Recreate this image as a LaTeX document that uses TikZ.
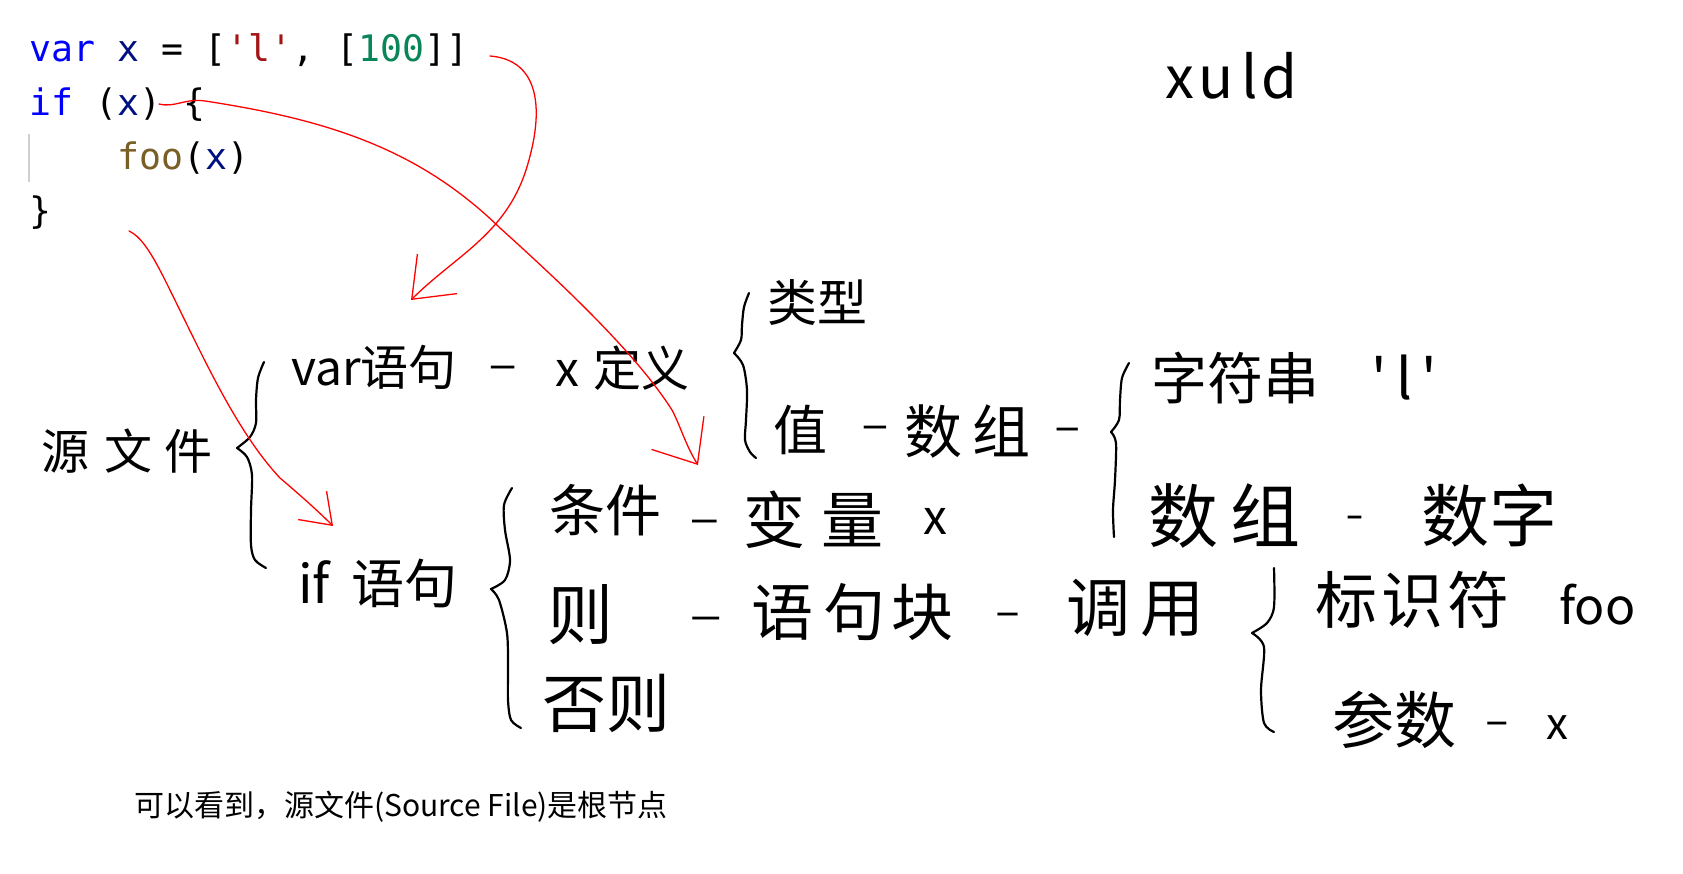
\documentclass[tikz,border=0pt]{standalone}
\usepackage{fontspec}
\usepackage{graphicx}
\setmonofont{DejaVu Sans Mono}
\newfontfamily\cjk{Noto Sans CJK SC}
\newfontfamily\dashfont{DejaVu Sans}
\usetikzlibrary{arrows.meta}

\definecolor{kwblue}{HTML}{0000FF}
\definecolor{varnavy}{HTML}{001080}
\definecolor{strred}{HTML}{A31515}
\definecolor{numgreen}{HTML}{098658}
\definecolor{fnbrown}{HTML}{795E26}
\definecolor{guidegray}{HTML}{D0D0D0}

\newcommand{\handdash}[1]{\scalebox{#1}[1]{–}}

\tikzset{
  hand/.style={font=\cjk\fontsize{#1}{#1}\selectfont, inner sep=0pt, anchor=west},
  hand/.default=50,
  dashmark/.style={font=\dashfont\fontsize{40}{40}\selectfont, inner sep=0pt, anchor=base west},
  code/.style={font=\ttfamily\fontsize{36.5}{44}\selectfont, inner sep=0pt, anchor=base west},
  pen/.style={line width=2.2pt, line cap=round, line join=round},
  redline/.style={red, line width=1.3pt, line cap=round, line join=round},
}

\begin{document}
\begin{tikzpicture}[x=1pt, y=-1pt]

  \fill[white] (0,0) rectangle (1683,874);

  %% ════ 代码区 ════
  \draw[guidegray, line width=1.5pt] (29,134) -- (29,182);
  \node[code] (line1) at (29,62) {\color{kwblue}var \color{varnavy}x \color{black}= [\color{strred}'l'\color{black}, [\color{numgreen}100\color{black}]]};
  \node[code] (line2) at (29,116) {\color{kwblue}if \color{black}(\color{varnavy}x\color{black}) \{};
  \node[code] (line3) at (117,170) {\color{fnbrown}foo\color{black}(\color{varnavy}x\color{black})};
  \node[code] (line4) at (29,224) {\}};

  %% ════ 手写：签名 ════
  \node[hand=58] (sign) at (1165,76) {x\hspace{4pt}u\hspace{8pt}l\hspace{4pt}d};

  %% ════ 手写：树 ════
  \node[hand=48] (src) at (41,451) {源\hspace{15pt}文\hspace{12pt}件};

  \node[hand=48] (vardecl) at (291,367) {var语句};
  \node[dashmark] (dash1) at (488,378) {\handdash{1.46}};
  \node[hand=48] (xdef) at (555,368) {x\hspace{14pt}定义};

  \node[hand=50] (kind) at (767,303) {类型};
  \node[hand=54] (val) at (773,430) {值};
  \node[dashmark] (dash2) at (861,438) {\handdash{1.39}};
  \node[hand=58] (arr) at (904,432) {数\hspace{10pt}组};
  \node[dashmark] (dash3) at (1054,440) {\handdash{1.32}};

  \node[hand=56] (strlit) at (1151,378) {字符串};
  \node[hand=56] (strval) at (1371,378) {'\,l\,'};
  \node[hand=70] (arr2) at (1148,516) {数\hspace{12pt}组};
  \node[dashmark] (dash4) at (1346,528) {\handdash{0.85}};
  \node[hand=68] (numlit) at (1421,516) {数字};

  \node[hand=53] (ifstmt) at (298,583) {if\hspace{22pt}语句};
  \node[hand=56] (cond) at (549,510) {条件};
  \node[dashmark] (dash5) at (689,532) {\handdash{1.53}};
  \node[hand=62] (varref) at (743,520) {变\hspace{16pt}量};
  \node[hand=48] (xvar) at (923,521) {x};

  \node[hand=66] (thenbr) at (547,615) {则};
  \node[dashmark] (dash6) at (689,629) {\handdash{1.67}};
  \node[hand=62] (block) at (751,612) {语\hspace{10pt}句\hspace{6pt}块};
  \node[dashmark] (dash7) at (995,625) {\handdash{1.25}};
  \node[hand=64] (call) at (1066,608) {调\hspace{10pt}用};
  \node[hand=64] (elsebr) at (542,703) {否则};

  \node[hand=62] (ident) at (1315,600) {标\hspace{4pt}识\hspace{4pt}符};
  \node[hand=50] (fooname) at (1559,605) {foo};
  \node[hand=62] (param) at (1332,720) {参数};
  \node[dashmark] (dash8) at (1485,734) {\handdash{1.18}};
  \node[hand=44] (xarg) at (1546,728) {x};

  %% ════ 大括号（手画）════
  \draw[pen] plot[smooth, tension=.5] coordinates {(264,362) (258,378) (256,400) (256,423) (250,437) (237,448)};
  \draw[pen] plot[smooth, tension=.5] coordinates {(237,448) (247,457) (252,475) (251,510) (251,545) (255,560) (266,568)};

  \draw[pen] plot[smooth, tension=.5] coordinates {(749,293) (744,307) (742,325) (741,340) (734,353)};
  \draw[pen] plot[smooth, tension=.5] coordinates {(734,353) (743,365) (747,390) (746,420) (745,440) (750,452) (756,458)};

  \draw[pen] plot[smooth, tension=.5] coordinates {(1129,363) (1122,378) (1120,400) (1119,420) (1111,432)};
  \draw[pen] plot[smooth, tension=.5] coordinates {(1111,432) (1116,443) (1115,480) (1113,510) (1114,537)};

  \draw[pen] plot[smooth, tension=.5] coordinates {(512,488) (504,505) (505,530) (510,560) (505,580) (491,589)};
  \draw[pen] plot[smooth, tension=.5] coordinates {(491,589) (499,600) (507,633) (508,667) (508,700) (511,720) (521,728)};

  \draw[pen] plot[smooth, tension=.5] coordinates {(1274,568) (1274,607) (1267,623) (1252,633)};
  \draw[pen] plot[smooth, tension=.5] coordinates {(1252,633) (1264,647) (1261,690) (1264,723) (1274,732)};

  %% ════ 红色箭头 ════
  \coordinate (aFrom) at (490,56);
  \coordinate (aTo) at (411,300);
  \coordinate (bFrom) at (159,104);
  \coordinate (bTo) at (698,465);
  \coordinate (cFrom) at (129,231);
  \coordinate (cTo) at (333,526);

  \draw[redline, -{Straight Barb[length=36pt, width=56pt]}] (aFrom) .. controls (540,60) and (545,110) .. (526,170)
    .. controls (505,235) and (455,256) .. (aTo);
  \draw[redline, -{Straight Barb[length=37pt, width=62pt]}] (bFrom) .. controls (175,108) and (185,98) .. (205,101)
    .. controls (330,120) and (420,150) .. (500,228)
    .. controls (580,300) and (640,360) .. (672,410)
    .. controls (680,425) and (686,446) .. (bTo);
  \draw[redline, -{Straight Barb[length=28pt, width=40pt]}] (cFrom) .. controls (140,236) and (150,250) .. (165,280)
    .. controls (200,350) and (235,430) .. (280,478)
    .. controls (300,495) and (318,511) .. (cTo);

  %% ════ 说明文字 ════
  \node[hand=30] (caption) at (134,807) {可以看到，源文件(Source File)是根节点};

  \pgfresetboundingbox
  \path[use as bounding box] (0,0) rectangle (1683,874);
\end{tikzpicture}
\end{document}
